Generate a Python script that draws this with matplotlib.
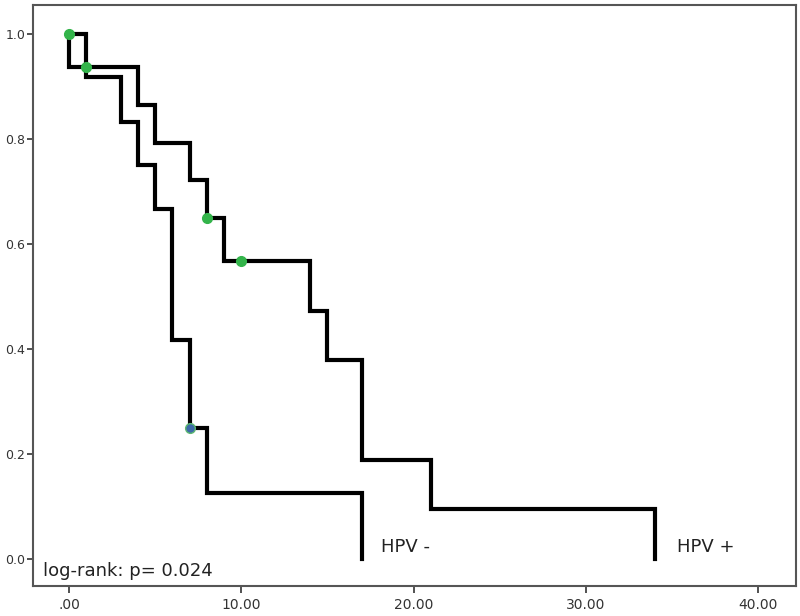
import matplotlib
matplotlib.use("Agg")
import matplotlib.pyplot as plt

# Kaplan-Meier step curves (time, survival)
hpv_pos_t = [0, 0, 4, 5, 7, 8, 9, 14, 15, 17, 21, 34]
hpv_pos_s = [1.0, 0.9375, 0.865, 0.793, 0.721, 0.649, 0.567, 0.473, 0.378, 0.189, 0.095, 0.0]
hpv_pos_cens_t = [1, 8, 10]
hpv_pos_cens_s = [0.9375, 0.649, 0.567]

hpv_neg_t = [0, 1, 3, 4, 5, 6, 7, 8, 17]
hpv_neg_s = [1.0, 0.917, 0.833, 0.75, 0.667, 0.417, 0.25, 0.125, 0.0]
hpv_neg_cens_t = [0]
hpv_neg_cens_s = [1.0]
hpv_neg_cens2_t = [7]
hpv_neg_cens2_s = [0.25]

xticks = [0, 10, 20, 30, 40]
xtick_labels = [".00", "10.00", "20.00", "30.00", "40.00"]
yticks = [0.0, 0.2, 0.4, 0.6, 0.8, 1.0]

plt.rcParams['font.family'] = ['DejaVu Sans']
fig = plt.figure(figsize=(8, 6.16), dpi=100)
ax = fig.add_axes([0.041, 0.049, 0.954, 0.943])

ax.step(hpv_pos_t, hpv_pos_s, where='post', color='black', lw=3, solid_joinstyle='miter')
ax.step(hpv_neg_t, hpv_neg_s, where='post', color='black', lw=3, solid_joinstyle='miter')

ax.plot(hpv_pos_cens_t, hpv_pos_cens_s, 'o', color='#33b44a', ms=7, mec='#33b44a', zorder=3)
ax.plot(hpv_neg_cens_t, hpv_neg_cens_s, 'o', color='#33b44a', ms=7, mec='#33b44a', zorder=3)
ax.plot(hpv_neg_cens2_t, hpv_neg_cens2_s, 'o', color='#3d6aa8', ms=7, mec='#5cb870', mew=1, zorder=3)

ax.text(18.1, 0.005, "HPV -", fontsize=13, color='#222222', va='bottom')
ax.text(35.3, 0.005, "HPV +", fontsize=13, color='#222222', va='bottom')
ax.text(-1.5, -0.04, "log-rank: p= 0.024", fontsize=13, color='#222222', va='bottom')

ax.set_xlim(-2.1, 42.2)
ax.set_ylim(-0.051, 1.055)
ax.set_xticks(xticks)
ax.set_xticklabels(xtick_labels)
ax.set_yticks(yticks)
ax.set_yticklabels([f"{v:.1f}" for v in yticks])

for sp in ax.spines.values():
    sp.set_color('#555555')
    sp.set_linewidth(1.5)
ax.tick_params(direction='out', length=5, width=1.2, color='#333333',
               labelcolor='#333333')
ax.tick_params(axis='x', labelsize=10, pad=4)
ax.tick_params(axis='y', labelsize=9, length=4, pad=1.5)

fig.savefig("out.png", dpi=100)
